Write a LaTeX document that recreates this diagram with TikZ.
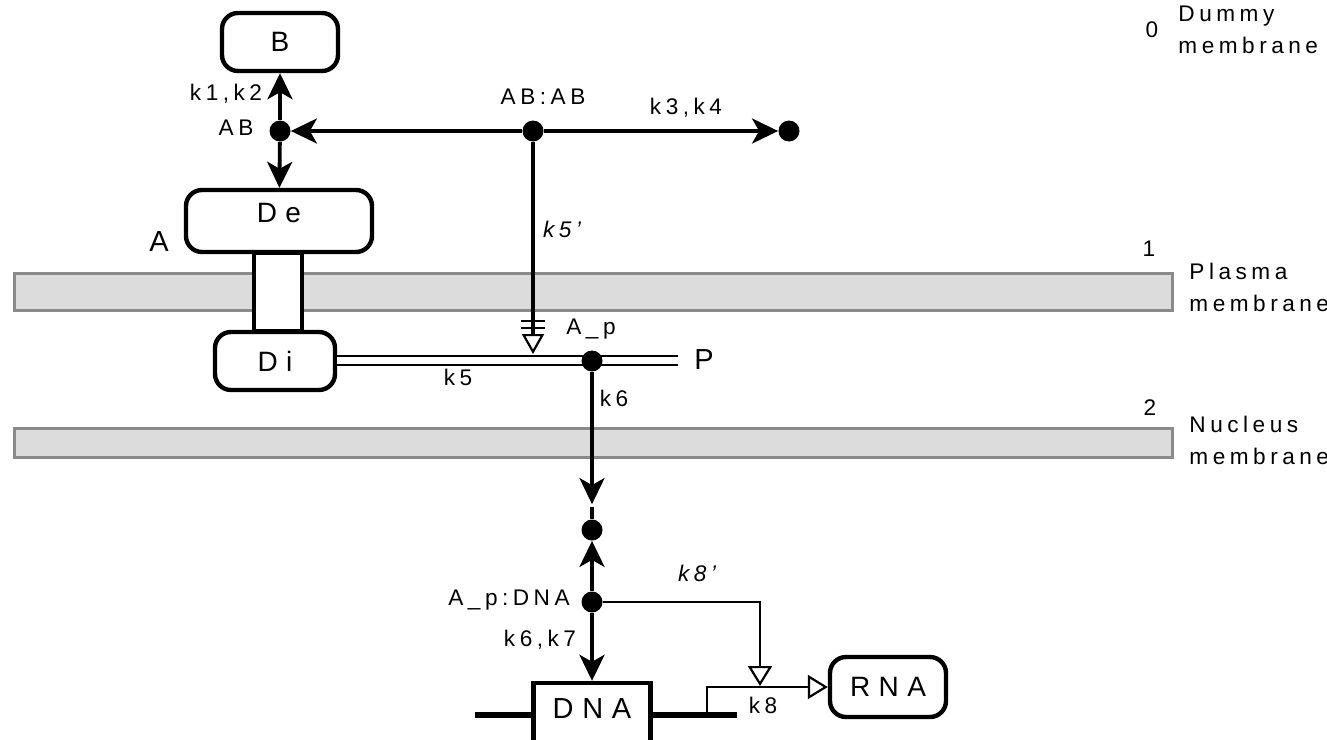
\documentclass[tikz,border=0pt]{standalone}
\usepackage{fontspec}
\setmainfont[LetterSpace=20]{Liberation Sans}
\newfontfamily\widefont[LetterSpace=30]{Liberation Sans}
\usetikzlibrary{arrows.meta, positioning, calc}
\definecolor{membfill}{HTML}{DCDCDC}
\definecolor{membline}{HTML}{8A8A8A}

\begin{document}
\begin{tikzpicture}[
    x=0.5pt, y=-0.5pt,
    species/.style={rectangle, draw, line width=2.2pt, rounded corners=8pt, fill=white, inner sep=0pt, font=\widefont\fontsize{14}{15}\selectfont},
    stembox/.style={rectangle, draw, line width=2.2pt, fill=white, inner sep=0pt, minimum width=24pt, minimum height=39pt},
    gene/.style={rectangle, draw, line width=2.2pt, fill=white, inner sep=0pt, font=\widefont\fontsize{14.5}{15}\selectfont},
    dot/.style={circle, fill, inner sep=0pt, minimum size=10.5pt},
    arrow/.style={-{Stealth[length=13pt, width=12.5pt, inset=3.5pt]}, line width=1.9pt},
    modif/.style={-{Triangle[open, length=10pt, width=12pt, line width=1.1pt]}, line width=1.1pt},
    trigger/.style={-{Bar[width=12pt, line width=1.1pt, sep=2.5pt] Bar[width=12pt, line width=1.1pt, sep=2.5pt] Triangle[open, length=10pt, width=11pt, line width=1.1pt]}, line width=1.9pt},
    membrane/.style={draw=membline, line width=1.5pt, fill=membfill},
    lbl/.style={font=\fontsize{11.3}{16}\selectfont, inner sep=0pt, align=left},
    big/.style={font=\widefont\fontsize{14.5}{15}\selectfont, inner sep=0pt},
]
\useasboundingbox (0,0) rectangle (1327,739);

% membranes
\draw[membrane] (14,273) rectangle (1172,310);
\draw[membrane] (14,428) rectangle (1172,457);
\node[lbl] (m0) at (1152,30) {0};
\node[lbl, anchor=north west] (m0t) at (1178,6) {Dummy\\membrane};
\node[lbl] (m1) at (1149,249) {1};
\node[lbl, anchor=north west] (m1t) at (1189,263) {Plasma\\membrane};
\node[lbl] (m2) at (1150,408) {2};
\node[lbl, anchor=north west] (m2t) at (1189,416) {Nucleus\\membrane};

% receptor A
\node[species, minimum width=58pt, minimum height=29pt] (B) at (280,42) {B};
\node[stembox] (stem) at (278,292) {};
\node[species, minimum width=93pt, text height=16pt, text depth=15pt, anchor=base] (De) at (279,222) {De};
\node[species, minimum width=60pt, minimum height=29pt] (Di) at (275,361) {Di};
\node[big] (A) at (159,242) {A};

% complexes
\node[dot] (ab) at (280,131) {};
\node[dot] (abab) at (533,131) {};
\node[dot] (sink) at (789,131) {};
\node[lbl] at (226,94) {k1,k2};
\node[lbl] at (236,128) {AB};
\node[lbl] at (543,97) {AB:AB};
\node[lbl] at (686,108) {k3,k4};
\node[lbl, font=\itshape\fontsize{11.3}{12}\selectfont] at (562,229) {k5'};

\draw[arrow] (ab) -- (B);
\draw[arrow] (ab) -- (De);
\draw[arrow] (abab) -- (ab);
\draw[arrow] (abab) -- (sink);

% phosphorylation
\coordinate (pend) at (678,360);
\draw[line width=1pt, double distance=3.5pt] (Di.east |- pend) -- (pend);
\node[big, right=8pt of pend] (P) {P};
\node[dot] (ap) at (592,361) {};
\coordinate (k5tip) at (533,354);
\draw[trigger] (abab) -- (k5tip);
\node[lbl] at (591,329) {A\_p};
\node[lbl] at (458,377) {k5};
\node[lbl] at (614,398) {k6};

% nucleus
\node[dot] (mid) at (592,530) {};
\node[dot] (apdna) at (592,602) {};
\draw[arrow, shorten >=7.5pt] (ap) -- (mid);
\draw[line width=1.9pt] (mid.north) -- ++(0,-12);
\draw[arrow] (apdna) -- (mid);
\node[lbl] at (509,600) {A\_p:DNA};
\node[lbl] at (540,640) {k6,k7};

\node[gene, minimum width=58.5pt, text height=17.5pt, text depth=22pt, anchor=base] (DNA) at (592,718) {DNA};
\draw[arrow] (apdna) -- (DNA);
\coordinate (gl) at (475,715);
\coordinate (gr) at (737,715);
\draw[line width=3pt] (gl) -- (gl -| DNA.west);
\draw[line width=3pt] (gr -| DNA.east) -- (gr);

\node[species, minimum width=58pt, minimum height=30pt] (RNA) at (888,687) {RNA};
\coordinate (tss) at (707,715);
\coordinate (k8tip) at (760,686);
\draw[modif] (apdna) -| (k8tip);
\draw[modif] (tss) |- (RNA);
\node[lbl, font=\itshape\fontsize{11.3}{12}\selectfont] at (697,573) {k8'};
\node[lbl] at (763,705) {k8};
\end{tikzpicture}
\end{document}
